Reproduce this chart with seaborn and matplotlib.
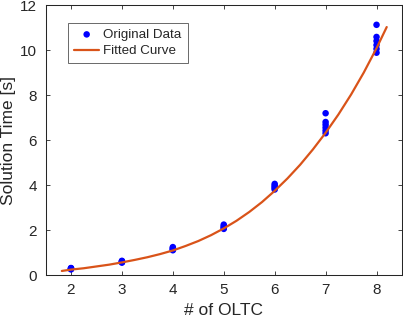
import matplotlib
matplotlib.use("Agg")
import matplotlib.pyplot as plt
import numpy as np
import pandas as pd
import seaborn as sns

# measured solution times per number of OLTCs
oltc_2 = [0.25, 0.27, 0.28, 0.30, 0.31]
oltc_3 = [0.55, 0.57, 0.59, 0.61, 0.63]
oltc_4 = [1.10, 1.13, 1.16, 1.20, 1.24]
oltc_5 = [2.05, 2.09, 2.13, 2.18, 2.24]
oltc_6 = [3.80, 3.86, 3.92, 3.98, 4.05]
oltc_7 = [6.30, 6.42, 6.55, 6.68, 6.80, 7.19]
oltc_8 = [9.88, 10.05, 10.22, 10.40, 10.58, 11.12]

# fitted curve
fit_x = [1.82, 2.0, 2.25, 2.5, 2.75, 3.0, 3.25, 3.5, 3.75, 4.0, 4.25, 4.5, 4.75,
         5.0, 5.25, 5.5, 5.75, 6.0, 6.25, 6.5, 6.75, 7.0, 7.25, 7.5, 7.75, 8.0, 8.2]
fit_y = [0.18, 0.24, 0.30, 0.38, 0.46, 0.56, 0.67, 0.79, 0.93, 1.09, 1.29, 1.51, 1.77,
         2.07, 2.41, 2.80, 3.24, 3.74, 4.29, 4.90, 5.58, 6.32, 7.13, 8.02, 9.00, 10.08, 11.02]

x_ticks = [2, 3, 4, 5, 6, 7, 8]
y_ticks = [0, 2, 4, 6, 8, 10, 12]

groups = {2: oltc_2, 3: oltc_3, 4: oltc_4, 5: oltc_5, 6: oltc_6, 7: oltc_7, 8: oltc_8}
pts = pd.DataFrame([(n, t) for n, ts in groups.items() for t in ts], columns=['oltc', 'time'])
fit = pd.DataFrame({'oltc': fit_x, 'time': fit_y})

sns.set_style('ticks')
plt.rcParams['font.family'] = ['Liberation Sans', 'DejaVu Sans']
axcol = '#262626'

fig = plt.figure(figsize=(4.03, 3.23), dpi=100)
ax = fig.add_axes([0.113, 0.1486, 0.8845, 0.8359])

sns.scatterplot(data=pts, x='oltc', y='time', ax=ax, color='#0000ff', s=22,
                edgecolor='none', label='Original Data', zorder=3)
sns.lineplot(data=fit, x='oltc', y='time', ax=ax, color='#d95319', lw=1.6,
             label='Fitted Curve', zorder=4)

ax.set_xlim(1.5, 8.5)
ax.set_ylim(0, 12)
ax.set_xticks(x_ticks)
ax.set_yticks(y_ticks)
ax.set_xlabel('# of OLTC', fontsize=12.5, color=axcol, labelpad=4)
ax.set_ylabel('Solution Time [s]', fontsize=12.5, color=axcol, labelpad=3)
ax.tick_params(direction='in', length=3, width=0.6, top=True, right=True,
               labelsize=11, colors=axcol, pad=6)
for s in ax.spines.values():
    s.set_visible(True)
    s.set_linewidth(0.75)
    s.set_color(axcol)

leg = ax.legend(loc='upper left', bbox_to_anchor=(0.063, 0.935), fontsize=9.6,
                frameon=True, fancybox=False, edgecolor=axcol, handlelength=1.9,
                handletextpad=0.3, borderpad=0.45, labelspacing=0.3, borderaxespad=0)
leg.get_frame().set_linewidth(0.6)

fig.savefig('out.png', dpi=100)
